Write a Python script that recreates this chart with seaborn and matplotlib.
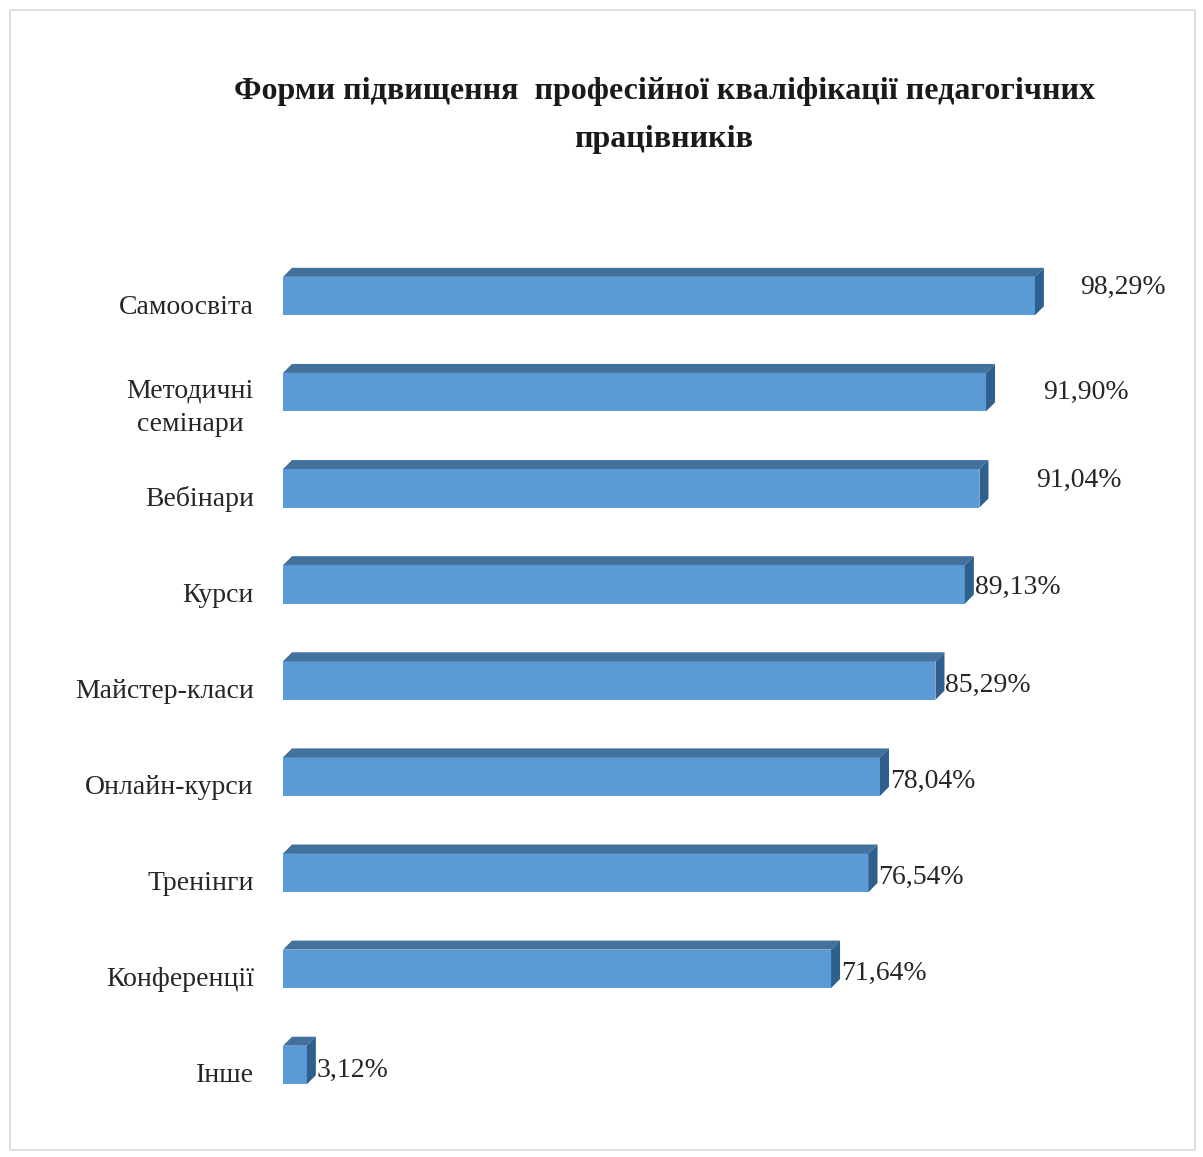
import matplotlib
matplotlib.use("Agg")
import matplotlib.pyplot as plt
from matplotlib.patches import Polygon, Rectangle
import matplotlib.transforms as mtransforms
import seaborn as sns
import pandas as pd

categories = ["Самоосвіта", "Методичні\nсемінари", "Вебінари", "Курси", "Майстер-класи",
              "Онлайн-курси", "Тренінги", "Конференції", "Інше"]
values = [98.29, 91.90, 91.04, 89.13, 85.29, 78.04, 76.54, 71.64, 3.12]
title_line1 = "Форми підвищення  професійної кваліфікації педагогічних"
title_line2 = "працівників"

FRONT = "#5B9BD5"
TOP = "#41719C"
SIDE = "#2F5F8C"
FONT = ["Liberation Serif", "DejaVu Serif"]

sns.set_theme(style="white")
plt.rcParams["font.family"] = FONT

W, H = 1203, 1157
fig = plt.figure(figsize=(W / 100, H / 100), dpi=100)

# axes in pixel coords
left, right = 283, 283 + 765
top, bottom = 248, 1113
ax = fig.add_axes([left / W, 1 - bottom / H, (right - left) / W, (bottom - top) / H])

df = pd.DataFrame({"cat": categories, "val": values})
sns.barplot(data=df, x="val", y="cat", orient="h", color=FRONT, width=0.4,
            saturation=1, ax=ax, linewidth=0)
ax.set_xlim(0, 100)
ax.set_ylim(len(categories) - 0.5, -0.5)

px_x = 100 / (right - left)
px_y = len(categories) / (bottom - top)
dx = 9 * px_x
dy = 9 * px_y

for p in list(ax.patches):
    x, y = p.get_x(), p.get_y()
    w, h = p.get_width(), p.get_height()
    topf = Polygon([(x, y), (x + w, y), (x + w + dx, y - dy), (x + dx, y - dy)],
                   closed=True, facecolor=TOP, edgecolor="none", clip_on=False)
    side = Polygon([(x + w, y), (x + w + dx, y - dy), (x + w + dx, y + h - dy), (x + w, y + h)],
                   closed=True, facecolor=SIDE, edgecolor="none", clip_on=False)
    ax.add_patch(topf)
    ax.add_patch(side)

label_off_px = [36, 48, 48, 1, 1, 1, 1, 1, 1]
label_dy_px = [-4, 5, -3, 8, 9, 9, 9, 9, 10]
for i, v in enumerate(values):
    txt = f"{v:.2f}".replace(".", ",") + "%"
    ax.text(v + dx + label_off_px[i] * px_x, i + label_dy_px[i] * px_y - dy / 2, txt,
            va="center", ha="left", fontsize=20, color="#262626", clip_on=False,
            family=FONT)

ax.set_xlabel("")
ax.set_ylabel("")
ax.set_xticks([])
ax.tick_params(axis="y", length=0, pad=21)
shift = mtransforms.ScaledTranslation(0, -8 / 100, fig.dpi_scale_trans)
for lab in ax.get_yticklabels():
    lab.set_fontsize(20)
    lab.set_color("#262626")
    lab.set_multialignment("center")
    lab.set_family(FONT)
    lab.set_linespacing(1.45)
    lab.set_transform(lab.get_transform() + shift)
for s in ax.spines.values():
    s.set_visible(False)

fig.text(664 / W, 1 - 91 / H, title_line1, ha="center", va="center", fontsize=23,
         fontweight="bold", color="#1a1a1a", family=FONT)
fig.text(664 / W, 1 - 139 / H, title_line2, ha="center", va="center", fontsize=23,
         fontweight="bold", color="#1a1a1a", family=FONT)

fig.patches.append(Rectangle((10 / W, 1 - 1150 / H), 1185 / W, 1140 / H,
                             transform=fig.transFigure, fill=False,
                             edgecolor="#D9D9D9", linewidth=1.2))

fig.savefig("out.png", dpi=100)
